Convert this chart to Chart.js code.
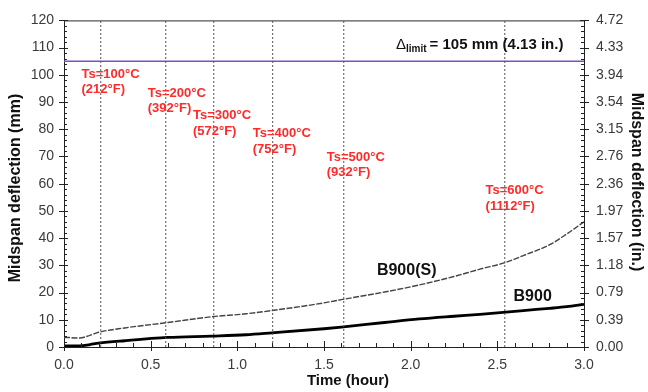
<!DOCTYPE html>
<html>
<head>
<meta charset="utf-8">
<script src="https://cdn.jsdelivr.net/npm/chart.js@4.4.0/dist/chart.umd.min.js"></script>
<style>
  html, body { margin: 0; padding: 0; background: #fff; }
  #wrap { width: 648px; height: 392px; position: relative; }
</style>
</head>
<body>
<div id="wrap"><canvas id="defl" width="648" height="392"></canvas></div>
<script>
// time (hour) for the measured curves
const times = [0, 0.09, 0.15, 0.2, 0.35, 0.6, 0.85, 1.05, 1.2, 1.5, 1.6, 1.85, 2.05, 2.25, 2.4, 2.55, 2.65, 2.8, 2.9, 3.0];
// midspan deflection (mm)
const b900s = [3.6, 3.3, 4.3, 5.4, 7.0, 9.0, 11.1, 12.2, 13.4, 16.2, 17.4, 20.2, 22.8, 25.9, 28.6, 31.1, 33.6, 37.5, 41.5, 46.0];
const b900 = [0.4, 0.4, 0.9, 1.4, 2.3, 3.5, 4.0, 4.5, 5.2, 6.7, 7.3, 9.0, 10.3, 11.3, 12.0, 12.8, 13.4, 14.2, 14.8, 15.7];

// times when steel temperature reached each level
const tsTimes = [0.212, 0.587, 0.864, 1.204, 1.614, 2.543];
const tsC = [100, 200, 300, 400, 500, 600];
const tsF = [212, 392, 572, 752, 932, 1112];
// where each pair of labels sits (hour, mm)
const tsLabelAt = [[0.101, 100.2], [0.483, 93.3], [0.744, 85.0], [1.089, 78.3], [1.516, 69.8], [2.432, 57.4]];

const LIMIT = 105;
const Y_MAX = 120;

const FONT = "'Liberation Sans', Arial, sans-serif";

// vertical dashed temperature lines
const tsSets = tsTimes.map(t => ({
  data: [{ x: t, y: 0 }, { x: t, y: Y_MAX }],
  borderColor: "#555",
  borderWidth: 1,
  borderDash: [2, 2],
  pointRadius: 0,
  showLine: true
}));

// draws minor ticks, titles and labels
const extras = {
  id: "extras",
  afterDatasetsDraw(chart) {
    const ctx = chart.ctx;
    const a = chart.chartArea;
    const xs = chart.scales.x, ys = chart.scales.y;
    ctx.save();

    // top frame line
    ctx.strokeStyle = "#555";
    ctx.lineWidth = 1.3;
    ctx.beginPath();
    ctx.moveTo(a.left, a.top + 0.5);
    ctx.lineTo(a.right, a.top + 0.5);
    ctx.stroke();

    // ticks
    ctx.strokeStyle = "#222";
    ctx.lineWidth = 1;
    ctx.beginPath();
    for (let v = 0; v <= Y_MAX + 0.01; v += 2) {
      const py = Math.round(ys.getPixelForValue(v)) + 0.5;
      const major = Math.abs(v % 10) < 0.01;
      const inL = major ? 4 : 3, outL = major ? 5 : 0;
      ctx.moveTo(a.left - outL, py); ctx.lineTo(a.left + inL, py);
      ctx.moveTo(a.right + outL, py); ctx.lineTo(a.right - inL, py);
    }
    for (let i = 0; i <= 30; i++) {
      const px = Math.round(xs.getPixelForValue(i / 10)) + 0.5;
      const major = i % 5 === 0;
      ctx.moveTo(px, a.bottom + (major ? 4 : 0));
      ctx.lineTo(px, a.bottom - (major ? 6 : 4));
    }
    ctx.stroke();

    // temperature labels
    ctx.fillStyle = "#ff2a2a";
    ctx.font = "bold 13px " + FONT;
    ctx.textBaseline = "middle";
    ctx.textAlign = "left";
    tsLabelAt.forEach((p, i) => {
      const px = xs.getPixelForValue(p[0]);
      const py = ys.getPixelForValue(p[1]);
      ctx.fillText("Ts=" + tsC[i] + "\u00B0C", px, py);
      ctx.fillText("(" + tsF[i] + "\u00B0F)", px, py + 15.5);
    });

    // series labels
    ctx.fillStyle = "#111";
    ctx.font = "bold 16px " + FONT;
    ctx.textAlign = "center";
    ctx.fillText("B900(S)", xs.getPixelForValue(1.977), ys.getPixelForValue(27.9));
    ctx.fillText("B900", xs.getPixelForValue(2.704), ys.getPixelForValue(18.5));

    // limit label
    ctx.textAlign = "left";
    ctx.textBaseline = "alphabetic";
    let x = 396;
    const base = 49;
    ctx.font = "15px " + FONT;
    ctx.fillText("\u0394", x, base);
    x += ctx.measureText("\u0394").width;
    ctx.font = "bold 10px " + FONT;
    ctx.fillText("limit", x, base + 3);
    x += ctx.measureText("limit").width + 3;
    ctx.font = "bold 15px " + FONT;
    ctx.fillText("= 105 mm (4.13 in.)", x, base);

    // axis titles
    ctx.textBaseline = "middle";
    ctx.textAlign = "center";
    ctx.font = "bold 15px " + FONT;
    ctx.fillText("Time (hour)", 348, 381);
    ctx.font = "bold 16px " + FONT;
    ctx.save();
    ctx.translate(16, 188);
    ctx.rotate(-Math.PI / 2);
    ctx.fillText("Midspan deflection (mm)", 0, 0);
    ctx.restore();
    ctx.save();
    ctx.translate(636, 182);
    ctx.rotate(Math.PI / 2);
    ctx.fillText("Midspan deflection (in.)", 0, 0);
    ctx.restore();

    ctx.restore();
  }
};

const tickFont = { family: FONT, size: 14 };

new Chart(document.getElementById("defl"), {
  type: "scatter",
  data: {
    datasets: [
      ...tsSets,
      {
        label: "limit",
        data: [{ x: 0, y: LIMIT }, { x: 3, y: LIMIT }],
        borderColor: "#7b4fc9",
        borderWidth: 1.5,
        pointRadius: 0,
        showLine: true
      },
      {
        label: "B900(S)",
        data: times.map((t, i) => ({ x: t, y: b900s[i] })),
        borderColor: "#444",
        borderWidth: 1.4,
        borderDash: [6, 1.5],
        pointRadius: 0,
        showLine: true,
        cubicInterpolationMode: "monotone"
      },
      {
        label: "B900",
        data: times.map((t, i) => ({ x: t, y: b900[i] })),
        borderColor: "#000",
        borderWidth: 2.8,
        pointRadius: 0,
        showLine: true,
        cubicInterpolationMode: "monotone"
      }
    ]
  },
  options: {
    responsive: false,
    animation: false,
    devicePixelRatio: 1,
    layout: { padding: { top: 17, left: 0, right: 0, bottom: 0 } },
    plugins: { legend: { display: false }, tooltip: { enabled: false } },
    scales: {
      x: {
        type: "linear",
        min: 0, max: 3,
        grid: { display: false, drawTicks: false },
        border: { display: true, color: "#222", width: 1 },
        ticks: {
          stepSize: 0.5, color: "#3a3a3a", font: tickFont, padding: 10,
          callback: v => v.toFixed(1)
        },
        afterFit: s => { s.height = 45; }
      },
      y: {
        position: "left",
        min: 0, max: Y_MAX,
        grid: { display: false, drawTicks: false },
        border: { display: true, color: "#222", width: 1 },
        ticks: { stepSize: 10, color: "#3a3a3a", font: tickFont, padding: 10 },
        afterFit: s => { s.width = 64; }
      },
      y2: {
        position: "right",
        min: 0, max: Y_MAX,
        grid: { display: false, drawTicks: false },
        border: { display: true, color: "#222", width: 1 },
        ticks: {
          stepSize: 10, color: "#3a3a3a", font: tickFont, padding: 12,
          callback: v => (v / 25.4).toFixed(2)
        },
        afterFit: s => { s.width = 64; }
      }
    }
  },
  plugins: [extras]
});
</script>
</body>
</html>
